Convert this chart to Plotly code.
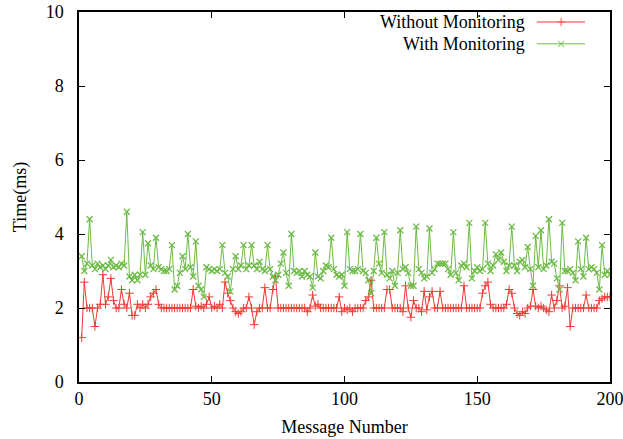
import plotly.graph_objects as go

message_numbers = list(range(1, 201))

without_monitoring = [
    1.2, 2.7, 2.0, 2.0, 2.0, 1.5, 2.0, 2.1, 2.9, 2.1,
    2.3, 2.8, 2.2, 2.0, 2.0, 2.5, 2.1, 2.0, 2.4, 1.8,
    1.8, 2.1, 2.0, 2.1, 2.0, 2.1, 2.3, 2.4, 2.5, 2.1,
    2.0, 2.0, 2.0, 2.0, 2.0, 2.0, 2.0, 2.0, 2.0, 2.0,
    2.0, 2.0, 2.5, 2.05, 2.0, 2.05, 2.0, 2.1, 2.3, 2.0,
    2.05, 2.0, 2.1, 2.0, 2.7, 2.4, 2.2, 2.0, 1.9, 1.85,
    1.9, 2.0, 2.0, 2.3, 2.0, 1.55, 1.9, 2.0, 2.0, 2.55,
    2.0, 2.0, 2.5, 2.85, 2.0, 2.0, 2.0, 2.0, 2.0, 2.0,
    2.0, 2.0, 2.0, 2.0, 2.0, 1.9, 2.0, 2.35, 2.05, 2.1,
    2.0, 2.0, 2.0, 2.0, 2.0, 2.0, 2.0, 2.3, 1.9, 2.0,
    1.95, 2.0, 1.9, 2.0, 2.0, 2.0, 2.0, 2.2, 2.3, 2.75,
    2.0, 2.0, 2.0, 2.0, 2.0, 2.5, 2.5, 2.0, 2.0, 2.0,
    2.0, 1.9, 2.6, 2.0, 1.75, 2.2, 2.0, 2.0, 1.9, 2.45,
    1.95, 2.3, 2.45, 2.0, 2.0, 2.45, 2.0, 2.0, 2.0, 2.0,
    2.0, 2.0, 2.0, 2.0, 2.6, 2.0, 2.0, 2.0, 2.0, 2.0,
    2.0, 2.4, 2.6, 2.7, 2.1, 2.0, 2.0, 2.0, 2.0, 2.0,
    2.1, 2.5, 2.4, 2.0, 1.85, 1.8, 1.9, 1.85, 2.0, 2.05,
    2.5, 2.05, 2.0, 2.05, 2.0, 1.95, 1.9, 2.35, 2.0, 2.2,
    2.6, 2.0, 2.05, 2.55, 1.5, 2.0, 2.0, 2.0, 2.0, 2.0,
    2.35, 2.0, 2.0, 2.0, 2.0, 2.2, 2.25, 2.3, 2.3, 2.3,
]

with_monitoring = [
    3.4, 3.0, 3.2, 4.4, 3.15, 3.05, 3.2, 3.1, 3.15, 3.05,
    3.15, 3.3, 3.1, 3.15, 3.1, 3.2, 3.15, 4.6, 2.85, 2.75,
    2.9, 2.75, 2.9, 4.05, 2.9, 3.75, 3.15, 3.05, 3.9, 3.1,
    3.05, 3.0, 3.0, 3.05, 3.7, 2.5, 2.6, 2.95, 3.4, 3.05,
    4.0, 3.1, 2.85, 3.8, 2.6, 2.5, 2.3, 3.1, 3.05, 3.0,
    3.05, 3.0, 3.05, 3.7, 2.95, 2.85, 2.45, 3.05, 3.4, 3.05,
    3.15, 3.7, 3.05, 3.15, 3.7, 3.15, 3.05, 3.25, 3.05, 3.0,
    3.7, 3.05, 2.85, 2.75, 2.9, 3.2, 3.5, 2.95, 2.6, 4.0,
    3.0, 2.95, 3.0, 2.85, 3.0, 2.9, 2.85, 2.55, 3.5, 2.85,
    2.8, 3.0, 3.15, 3.1, 3.9, 3.05, 2.9, 2.85, 2.9, 2.6,
    4.05, 3.05, 3.0, 3.0, 3.05, 4.0, 3.0, 2.95, 2.75, 2.4,
    3.0, 3.9, 3.2, 2.95, 4.05, 2.9, 2.8, 3.0, 2.6, 2.95,
    4.1, 3.05, 3.1, 2.95, 2.6, 2.6, 4.2, 3.05, 2.95, 2.8,
    2.85, 4.15, 2.95, 3.05, 3.2, 3.2, 3.2, 3.2, 3.05, 2.9,
    4.05, 2.95, 2.75, 3.15, 3.2, 3.1, 4.3, 2.8, 3.0, 3.1,
    3.0, 3.05, 4.3, 3.2, 3.0, 3.15, 3.45, 3.3, 3.5, 3.25,
    3.0, 3.15, 4.2, 3.15, 3.0, 3.25, 3.3, 3.1, 3.65, 3.05,
    2.6, 3.95, 3.1, 4.1, 3.05, 3.15, 4.4, 3.25, 3.2, 2.8,
    2.5, 4.3, 3.0, 3.0, 3.05, 2.95, 2.75, 3.8, 3.05, 2.85,
    3.9, 3.05, 3.1, 3.05, 2.95, 2.5, 3.7, 2.9, 3.0, 2.9,
]

series_names = ["Without Monitoring", "With Monitoring"]
x_tick_values = [0, 50, 100, 150, 200]
y_tick_values = [0, 2, 4, 6, 8, 10]

RED = "#ee3b35"
GREEN = "#6cbb45"
FONT = "Liberation Serif"
FS = 18

fig = go.Figure()

fig.add_trace(go.Scatter(
    x=message_numbers, y=without_monitoring, mode="lines+markers",
    name=series_names[0], showlegend=False,
    line=dict(color=RED, width=1),
    marker=dict(symbol="cross-thin-open", size=6, color=RED, line=dict(color=RED, width=1)),
))
fig.add_trace(go.Scatter(
    x=message_numbers, y=with_monitoring, mode="lines+markers",
    name=series_names[1], showlegend=False,
    line=dict(color=GREEN, width=1),
    marker=dict(symbol="x-thin-open", size=6, color=GREEN, line=dict(color=GREEN, width=1.3)),
))

# Gnuplot-style legend: right-aligned text followed by a sample line with marker
legend_rows = [0.973, 0.914]
legend_styles = [(RED, "cross-thin-open"), (GREEN, "x-thin-open")]
for name, ypos, (col, sym) in zip(series_names, legend_rows, legend_styles):
    fig.add_annotation(
        x=0.844, y=ypos, xref="paper", yref="paper", text=name,
        showarrow=False, xanchor="right", yanchor="middle",
        font=dict(family=FONT, size=FS, color="black"),
    )
    fig.add_trace(go.Scatter(
        x=[0.862, 0.908, 0.953], y=[ypos, ypos, ypos], xaxis="x2", yaxis="y2",
        mode="lines+markers", showlegend=False, hoverinfo="skip",
        line=dict(color=col, width=1),
        marker=dict(symbol=sym, size=[0, 6, 0], color=col, line=dict(color=col, width=1.2)),
    ))

axis_common = dict(
    showline=True, linecolor="black", linewidth=1.5, mirror="ticks",
    ticks="inside", ticklen=6, tickcolor="black", tickwidth=1,
    showgrid=False, zeroline=False, automargin=False, ticklabeloverflow="allow",
    tickfont=dict(family=FONT, size=FS, color="black"),
)

fig.update_layout(
    width=623, height=439,
    margin=dict(l=79, r=13, t=12, b=57, autoexpand=False),
    paper_bgcolor="white", plot_bgcolor="white",
    font=dict(family=FONT, size=FS, color="black"),
    xaxis=dict(range=[0, 200], tickvals=x_tick_values, ticklabelstandoff=0,
               title=dict(text="Message Number", font=dict(family=FONT, size=FS), standoff=12),
               **axis_common),
    yaxis=dict(range=[0, 10], tickvals=y_tick_values, ticklabelstandoff=10,
               title=dict(text="Time(ms)", font=dict(family=FONT, size=FS), standoff=14),
               **axis_common),
    xaxis2=dict(range=[0, 1], overlaying="x", visible=False, fixedrange=True),
    yaxis2=dict(range=[0, 1], overlaying="y", visible=False, fixedrange=True),
    showlegend=False,
)

fig.write_html(
    "out.html",
    config={"displayModeBar": False},
    post_script="document.body.style.margin='0';document.body.style.overflow='hidden';",
)
